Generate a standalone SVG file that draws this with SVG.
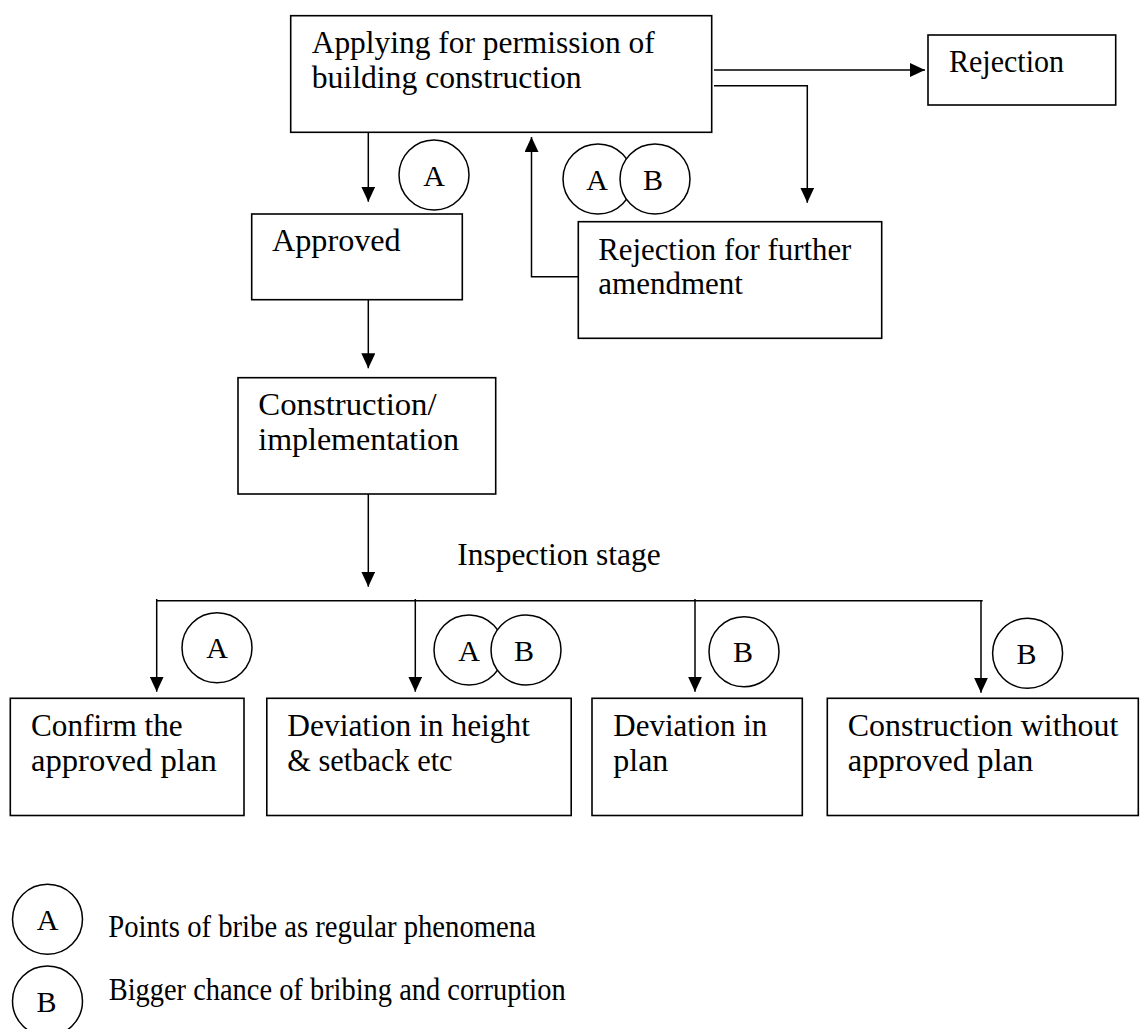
<svg xmlns="http://www.w3.org/2000/svg" width="1145" height="1029" viewBox="0 0 1145 1029">
  <style>
    .box { fill: #ffffff; stroke: #000000; stroke-width: 1.6; }
    .lbl { font-family: "Liberation Serif", "Times New Roman", serif; font-size: 31px; fill: #000000; }
    .tag { fill: #ffffff; stroke: #000000; stroke-width: 1.5; }
    .tagtxt { font-family: "Liberation Serif", "Times New Roman", serif; font-size: 30px; fill: #000000; text-anchor: middle; }
    .wire { fill: none; stroke: #000000; stroke-width: 1.5; }
  </style>
  <defs>
    <marker id="arrow" viewBox="0 0 15 14" refX="15" refY="7" markerWidth="15" markerHeight="14" markerUnits="userSpaceOnUse" orient="auto">
      <path d="M0,0 L15,7 L0,14 z" fill="#000000"/>
    </marker>
  </defs>

  <rect width="1145" height="1029" fill="#ffffff"/>

  <!-- connectors -->
  <g id="connectors">
    <line class="wire" x1="368.3" y1="132.3" x2="368.3" y2="201.7" marker-end="url(#arrow)"/>
    <polyline class="wire" points="578.3,276.7 531.5,276.7 531.5,137" marker-end="url(#arrow)"/>
    <line class="wire" x1="714" y1="70" x2="925" y2="70" marker-end="url(#arrow)"/>
    <polyline class="wire" points="714,85.7 807.3,85.7 807.3,202.7" marker-end="url(#arrow)"/>
    <line class="wire" x1="368.3" y1="299.7" x2="368.3" y2="368.3" marker-end="url(#arrow)"/>
    <line class="wire" x1="368.3" y1="494" x2="368.3" y2="586.7" marker-end="url(#arrow)"/>
    <line class="wire" x1="156.7" y1="600.7" x2="982.7" y2="600.7"/>
    <line class="wire" x1="156.7" y1="599" x2="156.7" y2="691.7" marker-end="url(#arrow)"/>
    <line class="wire" x1="415.3" y1="599" x2="415.3" y2="691.7" marker-end="url(#arrow)"/>
    <line class="wire" x1="695" y1="599" x2="695" y2="691.7" marker-end="url(#arrow)"/>
    <line class="wire" x1="981" y1="600.7" x2="981" y2="692.7" marker-end="url(#arrow)"/>
  </g>

  <!-- process boxes -->
  <g id="node-apply">
    <rect class="box" x="290.7" y="15.7" width="421" height="116.6"/>
    <text class="lbl" x="311.7" y="53.3" textLength="343" lengthAdjust="spacingAndGlyphs">Applying for permission of</text>
    <text class="lbl" x="311.7" y="88.3" textLength="270" lengthAdjust="spacingAndGlyphs">building construction</text>
  </g>
  <g id="node-rejection">
    <rect class="box" x="928" y="35" width="187.7" height="70"/>
    <text class="lbl" x="949" y="72.3" textLength="115" lengthAdjust="spacingAndGlyphs">Rejection</text>
  </g>
  <g id="node-amendment">
    <rect class="box" x="578.3" y="221.7" width="303.4" height="116.6"/>
    <text class="lbl" x="598.3" y="260" textLength="253" lengthAdjust="spacingAndGlyphs">Rejection for further</text>
    <text class="lbl" x="598.3" y="294.3">amendment</text>
  </g>
  <g id="node-approved">
    <rect class="box" x="251.7" y="214" width="210.6" height="85.7"/>
    <text class="lbl" x="272" y="250.7" textLength="128.7" lengthAdjust="spacingAndGlyphs">Approved</text>
  </g>
  <g id="node-construction">
    <rect class="box" x="238" y="377.7" width="257.7" height="116.3"/>
    <text class="lbl" x="258.3" y="415" textLength="178.3" lengthAdjust="spacingAndGlyphs">Construction/</text>
    <text class="lbl" x="258.3" y="449.5" textLength="200.7" lengthAdjust="spacingAndGlyphs">implementation</text>
  </g>
  <g id="label-inspection">
    <text class="lbl" x="457.3" y="565" textLength="203.3" lengthAdjust="spacingAndGlyphs">Inspection stage</text>
  </g>
  <g id="node-confirm">
    <rect class="box" x="10.3" y="698.3" width="233.7" height="117.2"/>
    <text class="lbl" x="31" y="736" textLength="151.7" lengthAdjust="spacingAndGlyphs">Confirm the</text>
    <text class="lbl" x="31" y="770.7" textLength="185.7" lengthAdjust="spacingAndGlyphs">approved plan</text>
  </g>
  <g id="node-height">
    <rect class="box" x="266.8" y="698.3" width="304.4" height="117.2"/>
    <text class="lbl" x="287.3" y="736" textLength="242.7" lengthAdjust="spacingAndGlyphs">Deviation in height</text>
    <text class="lbl" x="287.3" y="770.7" textLength="165.3" lengthAdjust="spacingAndGlyphs">&amp; setback etc</text>
  </g>
  <g id="node-plan">
    <rect class="box" x="592" y="698.3" width="210.3" height="117.2"/>
    <text class="lbl" x="613.3" y="736" textLength="154" lengthAdjust="spacingAndGlyphs">Deviation in</text>
    <text class="lbl" x="613.3" y="770.7" textLength="55" lengthAdjust="spacingAndGlyphs">plan</text>
  </g>
  <g id="node-noplan">
    <rect class="box" x="827.3" y="698.3" width="311" height="117.2"/>
    <text class="lbl" x="847.7" y="736" textLength="270.7" lengthAdjust="spacingAndGlyphs">Construction without</text>
    <text class="lbl" x="847.7" y="770.7" textLength="185.7" lengthAdjust="spacingAndGlyphs">approved plan</text>
  </g>

  <!-- bribe markers -->
  <g id="tag-approve-a">
    <circle class="tag" cx="434" cy="175" r="35"/>
    <text class="tagtxt" x="434" y="185.5">A</text>
  </g>
  <g id="tag-amend-ab">
    <circle class="tag" cx="598" cy="179" r="35"/>
    <text class="tagtxt" x="597" y="189.5">A</text>
    <circle class="tag" cx="655" cy="179" r="35"/>
    <text class="tagtxt" x="653" y="189.5">B</text>
  </g>
  <g id="tag-confirm-a">
    <circle class="tag" cx="217" cy="647.7" r="35"/>
    <text class="tagtxt" x="217" y="658.2">A</text>
  </g>
  <g id="tag-height-ab">
    <circle class="tag" cx="469" cy="650" r="35"/>
    <text class="tagtxt" x="469" y="660.5">A</text>
    <circle class="tag" cx="526" cy="650" r="35"/>
    <text class="tagtxt" x="524" y="660.5">B</text>
  </g>
  <g id="tag-plan-b">
    <circle class="tag" cx="744" cy="651.7" r="35"/>
    <text class="tagtxt" x="743" y="662.2">B</text>
  </g>
  <g id="tag-noplan-b">
    <circle class="tag" cx="1027.6" cy="653.3" r="35"/>
    <text class="tagtxt" x="1026.6" y="663.8">B</text>
  </g>

  <!-- key -->
  <g id="legend-a">
    <circle class="tag" cx="47.5" cy="919.3" r="35"/>
    <text class="tagtxt" x="47.5" y="929.8">A</text>
    <text class="lbl" x="108.3" y="936.7" textLength="427.5" lengthAdjust="spacingAndGlyphs">Points of bribe as regular phenomena</text>
  </g>
  <g id="legend-b">
    <circle class="tag" cx="47.5" cy="1001" r="35"/>
    <text class="tagtxt" x="46.5" y="1011.5">B</text>
    <text class="lbl" x="108.7" y="1000" textLength="457" lengthAdjust="spacingAndGlyphs">Bigger chance of bribing and corruption</text>
  </g>
</svg>
